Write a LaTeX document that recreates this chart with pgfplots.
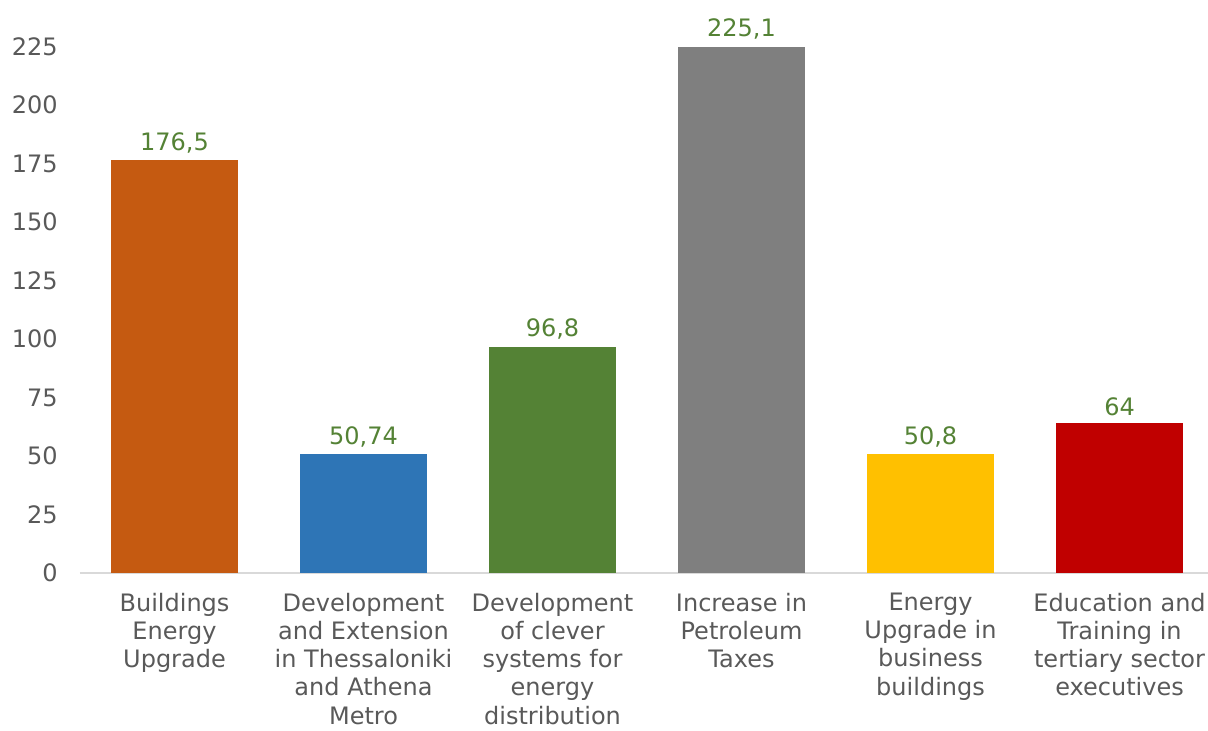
\documentclass[border=0pt]{standalone}
\usepackage{pgfplots}
\pgfplotsset{compat=1.18}
\usepackage{fontspec}
\setmainfont{DejaVu Sans}
\definecolor{cOrange}{HTML}{C55A11}
\definecolor{cBlue}{HTML}{2E75B6}
\definecolor{cGreen}{HTML}{548235}
\definecolor{cGray}{HTML}{7F7F7F}
\definecolor{cYellow}{HTML}{FFC000}
\definecolor{cRed}{HTML}{C00000}
\definecolor{cText}{HTML}{595959}
\definecolor{cAxis}{HTML}{D9D9D9}
\begin{document}
\begin{tikzpicture}
\begin{axis}[
  scale only axis,
  width=564pt, height=286.5pt,
  xmin=-0.5, xmax=5.468,
  ymin=0, ymax=245,
  axis x line*=bottom,
  axis y line*=left,
  x axis line style={draw=cAxis, line width=1pt, -},
  y axis line style={draw=none},
  ytick={0,25,...,225},
  xtick={0,1,2,3,4,5},
  xticklabels={Buildings\\Energy\\Upgrade,
    Development\\and Extension\\in Thessaloniki\\and Athena\\Metro,
    Development\\of clever\\systems for\\energy\\distribution,
    Increase in\\Petroleum\\Taxes,
    Energy\\Upgrade in\\business\\buildings,
    Education and\\Training in\\tertiary sector\\executives},
  major tick length=0pt,
  tick style={draw=none},
  /pgf/number format/assume math mode=true,
  xticklabel style={align=center, font=\fontsize{12}{14.1}\selectfont, text=cText, anchor=north, yshift=-6.5pt},
  yticklabel style={font=\fontsize{12}{14.5}\selectfont, text=cText, anchor=east, inner sep=0pt, xshift=-11pt},
  ybar, bar shift=0pt, bar width=0.672,
  nodes near coords,
  point meta=explicit symbolic,
  every node near coord/.append style={font=\fontsize{12}{14.5}\selectfont, text=cGreen, anchor=south, yshift=0pt},
  clip=false,
]
\addplot[fill=cOrange, draw=none] coordinates {(0,176.5) [176,5]};
\addplot[fill=cBlue, draw=none] coordinates {(1,50.74) [50,74]};
\addplot[fill=cGreen, draw=none] coordinates {(2,96.8) [96,8]};
\addplot[fill=cGray, draw=none] coordinates {(3,225.1) [225,1]};
\addplot[fill=cYellow, draw=none] coordinates {(4,50.8) [50,8]};
\addplot[fill=cRed, draw=none] coordinates {(5,64) [64]};
\end{axis}
\pgfresetboundingbox
\path (current axis.south west) ++(-40pt,-79pt) coordinate (BL);
\path (BL) rectangle (current axis.north east);
\end{tikzpicture}
\end{document}
